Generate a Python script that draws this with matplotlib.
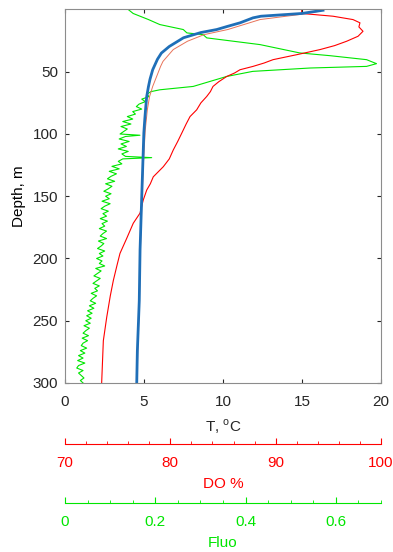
import matplotlib
matplotlib.use("Agg")
import matplotlib.pyplot as plt

plt.rcParams['font.family'] = ['Liberation Sans', 'DejaVu Sans']
plt.rcParams['mathtext.fontset'] = 'custom'
plt.rcParams['mathtext.rm'] = 'Liberation Sans'
plt.rcParams['font.size'] = 11

# temperature profile (thick blue), depth in m, T in degC
t_depth = [0.6, 3.2, 5.4, 6.7, 10.7, 13.5, 16.1, 18.5, 22.7, 29.7, 35, 40,
           48.4, 56, 62, 70, 80, 88, 99, 126, 153, 193, 234, 274, 300]
t_val = [16.33, 14.98, 12.4, 11.9, 11.08, 10.3, 9.6, 8.6, 7.5, 6.6, 6.1, 5.85,
         5.55, 5.38, 5.28, 5.17, 5.1, 5.05, 4.99, 4.92, 4.85, 4.75, 4.70, 4.58, 4.54]

# second temperature profile (thin)
t2_depth = [1.6, 4, 8.1, 16.1, 20.2, 25.5, 32.2, 41.7, 45.7, 53.8, 61.8, 70,
            80.6, 96.7, 126, 153, 193, 234, 274, 300]
t2_val = [16.01, 14.87, 12.34, 10.3, 8.8, 7.75, 6.85, 6.2, 6.05, 5.8, 5.55, 5.35,
          5.21, 5.08, 4.95, 4.87, 4.77, 4.71, 4.60, 4.56]

# dissolved oxygen, %
do_depth = [0, 3.2, 5.4, 8.1, 10.7, 14, 17.5, 21.5, 25.5, 29, 32.2, 36.3, 40.3,
            43, 45.7, 48.4, 51, 53.8, 58, 61.8, 66, 69.9, 75, 80.6, 86, 92, 99.4,
            106, 112.8, 120, 126.3, 134.4, 140, 145, 153, 163.6, 171.7, 183.8,
            195.9, 205, 217.6, 230, 247.2, 266, 285, 300]
do_val = [92.47, 92.47, 95.44, 97.34, 98.0, 97.9, 98.29, 97.82, 96.74, 95.6, 94.21,
          92.0, 89.75, 88.9, 87.85, 86.61, 86.1, 85.35, 84.6, 84.05, 83.8, 83.45,
          82.9, 82.5, 81.87, 81.5, 81.08, 80.7, 80.28, 79.9, 79.33, 78.38, 78.1,
          77.76, 77.43, 77.12, 76.48, 75.86, 75.22, 74.95, 74.59, 74.3, 73.96,
          73.64, 73.55, 73.48]

# fluorescence
fl_depth = [0, 3.2, 8.1, 12.1, 16.1, 18.8, 20.2, 22.8, 28.2, 34.9, 37.1, 40.3,
            43.5, 45.7, 47.0, 49.7, 53.8, 61.8, 64.5,
            66, 68, 70, 72, 74, 76, 78, 80, 82, 84, 86, 88, 90, 92, 94, 96, 98,
            100, 101, 102, 104, 106, 108, 110, 112, 114, 116, 118, 119, 120,
            122, 124, 126, 128, 130, 132, 134, 136, 138, 140, 142, 144, 146,
            148, 150, 152, 154, 156, 158, 160, 162, 164, 166, 168, 170, 172,
            174, 176, 178, 180, 182, 184, 186, 188, 190, 192, 194, 196, 198,
            200, 202, 204, 206, 208, 210, 212, 214, 216, 218, 220, 222, 224,
            226, 228, 230, 232, 234, 236, 238, 240, 242, 244, 246, 248, 250,
            252, 254, 256, 258, 260, 262, 264, 266, 268, 270, 272, 274, 276,
            278, 280, 282, 284, 286, 288, 290, 292, 294, 296, 298, 300]
fl_val = [0.140, 0.151, 0.185, 0.210, 0.262, 0.270, 0.306, 0.314, 0.432, 0.520,
          0.587, 0.668, 0.690, 0.668, 0.543, 0.416, 0.358, 0.284, 0.210,
          0.190, 0.182, 0.186, 0.170, 0.178, 0.164, 0.158, 0.170, 0.150, 0.156,
          0.138, 0.150, 0.128, 0.146, 0.124, 0.138, 0.130,
          0.122, 0.166, 0.134, 0.120, 0.142, 0.124, 0.136, 0.118, 0.140, 0.126,
          0.134, 0.192, 0.128,
          0.118, 0.126, 0.104, 0.120, 0.098, 0.114, 0.102, 0.094, 0.110, 0.090,
          0.104, 0.096, 0.086, 0.102, 0.090, 0.098, 0.082, 0.100, 0.088, 0.080,
          0.096, 0.084, 0.092, 0.078, 0.094, 0.082, 0.088, 0.076, 0.092, 0.084,
          0.078, 0.092, 0.074, 0.086, 0.080, 0.072, 0.088, 0.076, 0.084,
          0.070, 0.082, 0.076, 0.088, 0.068, 0.080, 0.072, 0.064, 0.078, 0.070,
          0.062, 0.076, 0.066, 0.072, 0.058, 0.070, 0.062, 0.056, 0.068, 0.054,
          0.064, 0.050, 0.060, 0.048, 0.058, 0.046, 0.056, 0.042, 0.054, 0.046,
          0.040, 0.052, 0.038, 0.050, 0.040, 0.036, 0.048, 0.034, 0.044, 0.030,
          0.040, 0.028, 0.044, 0.030, 0.026, 0.040, 0.030, 0.036, 0.042, 0.034,
          0.040]

t_ticks = [0, 5, 10, 15, 20]
do_ticks = [70, 80, 90, 100]
fl_ticks = [0, 0.2, 0.4, 0.6]
depth_ticks = [50, 100, 150, 200, 250, 300]

RED = '#ff0000'
GREEN = '#00e600'
BLUE = '#1f6fb8'

fig = plt.figure(figsize=(3.93, 5.52), dpi=100)
rect = [0.1654, 0.3062, 0.8041, 0.6766]

ax_fl = fig.add_axes(rect, zorder=1)
ax_do = ax_fl.twiny()
ax_do.set_zorder(2)
ax = ax_fl.twiny()
ax.set_zorder(3)
ax_do.patch.set_visible(False)
ax.patch.set_visible(False)

ax_fl.plot(fl_val, fl_depth, color=GREEN, lw=0.8)
ax_do.plot(do_val, do_depth, color=RED, lw=0.8)
ax.plot(t2_val, t2_depth, color='#e8735a', lw=0.7)
ax.plot(t_val, t_depth, color=BLUE, lw=2.0)

ax_fl.set_ylim(300, 0)
ax_fl.set_yticks(depth_ticks)
ax_fl.set_ylabel('Depth, m', labelpad=5)
ax_fl.tick_params(axis='y', direction='in', right=True, length=3, pad=5,
                  colors='#262626')

# main T axis
ax.set_xlim(0, 20)
ax.set_xticks(t_ticks)
ax.xaxis.set_ticks_position('both')
ax.xaxis.set_label_position('bottom')
ax.tick_params(axis='x', direction='in', length=3, pad=8.5, colors='#262626',
               labelbottom=True, labeltop=False)
ax.set_xlabel(r'T, $^{\rm o}$C', labelpad=6, color='#262626')
for s in ax.spines.values():
    s.set_color('#8c8c8c')

for a, col, lim, ticks, minor, lab, off in [
        (ax_do, RED, (70, 100), do_ticks, 2, 'DO %', 44.0),
        (ax_fl, GREEN, (0, 0.7), fl_ticks, 0.05, 'Fluo', 86.4)]:
    a.set_xlim(*lim)
    a.set_xticks(ticks)
    a.set_xticks([lim[0] + minor * i for i in range(int(round((lim[1] - lim[0]) / minor)) + 1)],
                 minor=True)
    a.set_xticklabels([('%g' % v) for v in ticks])
    a.xaxis.set_ticks_position('bottom')
    a.xaxis.set_label_position('bottom')
    a.spines['bottom'].set_position(('outward', off))
    a.spines['bottom'].set_color(col)
    for s in ('top', 'left', 'right'):
        a.spines[s].set_visible(False)
    a.tick_params(axis='x', which='both', direction='in', colors=col, pad=8.5)
    a.tick_params(axis='x', which='major', length=4)
    a.tick_params(axis='x', which='minor', length=2)
    a.set_xlabel(lab, color=col, labelpad=5)

fig.savefig('out.png', dpi=100)
